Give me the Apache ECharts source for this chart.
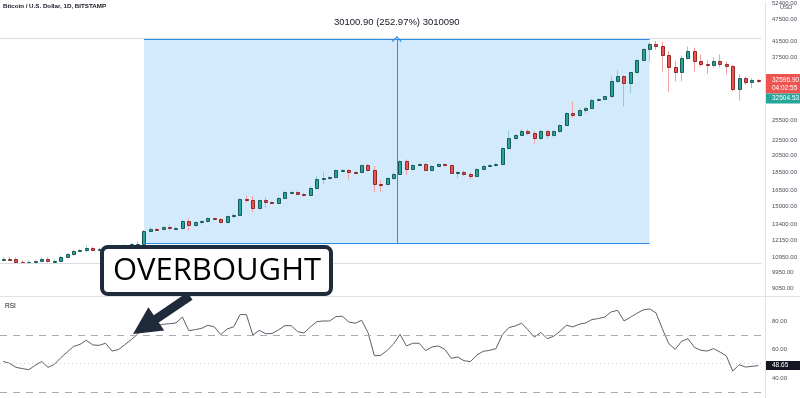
<!DOCTYPE html>
<html>
<head>
<meta charset="utf-8">
<script src="https://cdn.jsdelivr.net/npm/echarts@6/dist/echarts.min.js"></script>
<style>
html,body{margin:0;padding:0;background:#ffffff;}
#c{width:800px;height:398px;}
</style>
</head>
<body>
<div id="c"></div>
<script>
// ---- data (daily BTC/USD candles) ----
const openP = [10780,10850,10805,10650,10631,10640,10716,10828,10670,10696,
10982,11138,11385,11410,11584,11464,11513,11570,11605,11677,
11800,11871,11899,12880,13038,12990,13175,13095,13119,13695,
13306,13552,13637,13889,13850,13569,14078,14208,15643,15604,
14860,15547,15386,15320,15735,16360,16390,16130,16032,16795,
17682,17790,17935,18686,18778,18494,18471,19268,18721,17213,
17145,17790,18300,19784,18801,19304,19421,18755,19186,19386,
19268,18415,18494,18300,18045,18870,19186,19268,19456,21387,
22822,23204,23882,23591,22738,23882,23302,23780,24671,26558,
26314,27163,27430,28890,28995,29473,32452,33319,31978,34147,
36910,39491,40620,40300,38150,35427,34200,37434,39080,36685,
35925,35793,36685,35925,35580,30900,32980,32150,32650];
const closeP = [10850,10800,10650,10631,10650,10716,10828,10670,10696,10982,
11138,11394,11410,11584,11464,11513,11570,11605,11677,11800,
11871,11899,12880,13038,12990,13175,13095,13119,13695,13306,
13552,13637,13889,13850,13569,14078,14208,15643,15604,14860,
15547,15386,15320,15735,16360,16390,16130,16032,16795,17682,
17790,17935,18686,18778,18494,18471,19268,18721,17213,17145,
17790,18300,19784,18801,19304,19421,18755,19186,19386,19268,
18415,18494,18300,18045,18870,19186,19268,19456,21387,22822,
23204,23882,23591,22738,23882,23302,23780,24671,26558,26314,
27163,27430,28890,28995,29473,32452,33319,31978,34147,36910,
39491,40620,40300,38150,35427,34200,37434,39080,36685,35925,
35793,36685,35925,35580,30900,32980,32150,32650,32596.9];
const lowP = [10680,10716,10540,10552,10519,10519,10650,10585,10618,10650,
10915,11050,11290,11276,11394,11415,11464,11499,11534,11605,
11650,11785,11860,12801,12920,12920,12935,13014,13038,12880,
13200,13362,13527,13737,13446,13485,13907,14164,15320,14418,
14787,14860,15245,15245,15669,16260,16012,15914,15963,16630,
17145,17608,17769,18630,17682,18381,18381,18550,16289,16360,
17062,17608,18155,18155,18721,19186,18607,18607,19100,19127,
18324,17790,18045,17715,17935,18721,19068,19127,19362,21229,
22502,23062,23204,21955,22570,22710,22923,23562,24520,25800,
25990,26558,27296,28758,28855,29170,32016,27720,30076,33938,
36640,36530,39250,34357,30260,32313,32313,36960,34357,35427,
33840,35210,35210,33716,30391,28700,31650,31010,31978];
const highP = [10950,10980,10935,10749,10716,10782,10915,10915,10782,11050,
11220,11464,11499,11749,11677,11605,11641,11713,11749,11850,
11966,12077,12935,13159,13119,13281,13362,13200,13779,13890,
13653,13737,13992,13949,13949,14164,14340,15720,15963,15963,
15627,15864,15433,15864,16510,16510,16510,16260,16920,18045,
18527,18045,18835,18835,18835,18607,19362,19421,19186,17608,
17935,18437,19905,19999,19421,19541,19602,19304,19541,19480,
19362,18640,18663,18437,19009,19362,19421,19602,21557,23882,
23345,24140,24066,23780,24000,24000,23926,24822,26719,28583,
27380,27635,29030,29202,29654,33319,34714,33600,34357,37100,
39806,41200,41475,41298,38841,36685,37900,40050,39806,38150,
36910,37430,38150,36530,35793,33840,33319,32980,32810];
const rsiValues = [51.6,50.2,47.4,46.5,45.8,48.8,51.6,47.4,49.5,54.2,
58.2,62.2,63.6,66.5,63.2,62.9,64.4,58.9,59.9,63.4,
66.9,70.9,76.4,77.1,76.8,77.8,78.2,78.7,82.9,73.3,
74.0,74.9,77.1,75.9,70.5,74.5,75.9,84.6,84.6,70.2,
73.5,71.2,71.2,73.8,76.8,76.8,72.6,71.6,75.9,79.6,
80.1,80.1,83.2,83.4,79.4,78.5,80.6,71.9,55.6,55.9,
59.4,63.9,70.7,62.5,64.4,64.4,59.2,61.8,62.5,60.1,
53.8,54.7,52.1,51.4,56.1,58.7,59.4,60.6,70.5,75.4,
76.6,78.5,73.8,68.6,72.1,67.6,69.3,72.8,77.1,75.9,
77.8,78.7,81.1,81.8,82.9,86.5,87.6,80.1,82.7,85.5,
87.9,88.6,85.8,74.5,64.1,60.1,65.8,67.6,61.5,59.4,
58.9,60.6,58.2,55.4,44.8,49.3,47.6,48.1,48.65];
const priceTicks = [9050,9950,10950,12150,13400,15000,16500,18500,20500,22500,25500,37500,41500,47500,52400];
const rsiTicks = [40,60,80];
const rsiLevels = [70,30];
const rsiMid = 50;
const priceRange = [8614, 52600];
const rsiRange = [25.8, 97];
const guidePrices = [42000, 10480];
const measureStartIdx = 22, measureEndIdx = 101;
const measureStartPrice = 11899, measureEndPrice = 42000;
const measureText = '30100.90 (252.97%) 3010090';
const lastPriceText = '32596.90', countdownText = '04:02:55', otherPriceText = '32504.53';
const lastRsiText = '48.65';
const titleText = 'Bitcoin / U.S. Dollar, 1D, BITSTAMP';

// ---- chart ----
const L = Math.log;
const N = openP.length;
const idx = openP.map((_, i) => i);
const candleData = idx.map(i => [i, L(openP[i]), L(closeP[i]), L(lowP[i]), L(highP[i])]);
const FONT = 'Liberation Sans';
const LABEL_COLOR = '#4c4f5a';

function renderCandle(params, api) {
  const i = api.value(0);
  const o = api.coord([i, api.value(1)]);
  const c = api.coord([i, api.value(2)]);
  const lo = api.coord([i, api.value(3)]);
  const hi = api.coord([i, api.value(4)]);
  const up = api.value(2) >= api.value(1);
  const bw = Math.round(api.size([1, 0])[0] * 0.68);
  const xc = Math.round(o[0] - 0.5) + 0.5;
  const top = Math.round(Math.min(o[1], c[1]));
  const bot = Math.round(Math.max(o[1], c[1]));
  const h = Math.max(bot - top, 1);
  const x0 = Math.round(xc - bw / 2);
  return {
    type: 'group',
    children: [
      {type: 'line', shape: {x1: xc, y1: hi[1], x2: xc, y2: lo[1]},
       style: {stroke: up ? '#8fd0c8' : '#f2a1a0', lineWidth: 1}},
      {type: 'rect', shape: {x: x0 + 0.5, y: top + 0.5, width: bw - 1, height: h},
       style: {fill: up ? '#26a69a' : '#ef5350', stroke: up ? '#1a5c55' : '#8e2a28', lineWidth: 1}}
    ]
  };
}

const chevron = 'path://M0,7 L6,0 L12,7 L10.8,7.8 L6,2.2 L1.2,7.8 Z';
const midIdx = (measureStartIdx + measureEndIdx) / 2;

const chart = echarts.init(document.getElementById('c'));
chart.setOption({
  animation: false,
  backgroundColor: '#ffffff',
  textStyle: {fontFamily: FONT},
  grid: [
    {left: -3.6, right: 38.4, top: 0, height: 296},
    {left: -3.6, right: 38.4, top: 297, height: 101}
  ],
  xAxis: [
    {type: 'category', gridIndex: 0, data: idx, boundaryGap: true, show: false},
    {type: 'category', gridIndex: 1, data: idx, boundaryGap: true, show: false},
    {type: 'value', gridIndex: 0, min: -0.5, max: N - 0.5, show: false}
  ],
  yAxis: [
    {type: 'value', gridIndex: 0, position: 'right', offset: 3.4,
     min: L(priceRange[0]), max: L(priceRange[1]),
     axisLine: {show: true, onZero: false, lineStyle: {color: '#e0e3eb'}},
     axisTick: {show: false},
     splitLine: {show: false},
     axisLabel: {customValues: priceTicks.map(L), formatter: v => Math.exp(v).toFixed(2),
                 fontSize: 6, color: LABEL_COLOR, fontFamily: FONT, margin: 7}},
    {type: 'value', gridIndex: 1, position: 'right', offset: 3.4,
     min: rsiRange[0], max: rsiRange[1],
     axisLine: {show: true, onZero: false, lineStyle: {color: '#e0e3eb'}},
     axisTick: {show: false},
     splitLine: {show: false},
     axisLabel: {customValues: rsiTicks, formatter: v => v.toFixed(2),
                 fontSize: 6, color: LABEL_COLOR, fontFamily: FONT, margin: 7}}
  ],
  series: [
    {
      type: 'line', xAxisIndex: 0, yAxisIndex: 0, data: [], z: 0, silent: true,
      markLine: {silent: true, symbol: ['none', 'none'], label: {show: false},
        lineStyle: {color: '#d9dce3', width: 1, type: 'solid'},
        data: guidePrices.map(p => ({yAxis: L(p)}))}
    },
    {
      type: 'line', xAxisIndex: 2, yAxisIndex: 0, data: [], z: 1, silent: true,
      markArea: {silent: true, itemStyle: {color: 'rgba(33,150,243,0.2)'},
        data: [[{coord: [measureStartIdx, L(measureStartPrice)]}, {coord: [measureEndIdx, L(measureEndPrice)]}]]},
      markLine: {silent: true, symbol: ['none', 'none'], animation: false,
        lineStyle: {color: '#2b8de3', width: 1, type: 'solid'}, label: {show: false},
        data: [
          [{coord: [measureStartIdx, L(measureEndPrice)]}, {coord: [measureEndIdx, L(measureEndPrice)]}],
          [{coord: [measureStartIdx, L(measureStartPrice)]}, {coord: [measureEndIdx, L(measureStartPrice)]}],
          [{coord: [midIdx, L(measureStartPrice)], symbol: 'none'},
           {coord: [midIdx, L(measureEndPrice)], symbol: chevron, symbolSize: [10, 6],
            label: {show: true, position: 'end', formatter: measureText, color: '#131722',
                    fontSize: 9.5, fontFamily: FONT, distance: 12}}]
        ]}
    },
    {
      type: 'custom', xAxisIndex: 0, yAxisIndex: 0, data: candleData, renderItem: renderCandle,
      encode: {x: 0, y: [1, 2, 3, 4]}, z: 3, silent: true
    },
    {
      type: 'line', xAxisIndex: 1, yAxisIndex: 1, data: rsiValues, symbol: 'none', showSymbol: false,
      lineStyle: {color: '#5d606b', width: 1}, z: 3, silent: true,
      markLine: {silent: true, symbol: ['none', 'none'], label: {show: false},
        data: rsiLevels.map(v => ({yAxis: v, lineStyle: {color: '#a9acb5', type: [7, 6], width: 1}}))
          .concat([{yAxis: rsiMid, lineStyle: {color: '#cfd1d7', type: [1, 3], width: 1}}])}
    }
  ]
});

// ---- annotations placed from the axes ----
const yLast = chart.convertToPixel({yAxisIndex: 0}, L(closeP[N - 1]));
const yRsi = chart.convertToPixel({yAxisIndex: 1}, rsiValues[N - 1]);
const smallText = (text, x, y, fill, extra) => Object.assign({
  type: 'text', x: x, y: y, z: 50,
  style: {text: text, fill: fill, font: '6.5px "' + FONT + '"', align: 'left', verticalAlign: 'middle'}
}, extra || {});

chart.setOption({
  graphic: [
    {type: 'text', x: 3, y: 6.5, z: 50,
     style: {text: titleText, fill: '#131722', font: 'bold 6.2px "' + FONT + '"', verticalAlign: 'middle'}},
    {type: 'text', x: 786, y: 7.5, z: 50,
     style: {text: 'USD', fill: LABEL_COLOR, font: '6px "' + FONT + '"', align: 'center', verticalAlign: 'middle'}},
    {type: 'line', z: 50, shape: {x1: 0, y1: 296.5, x2: 800, y2: 296.5}, style: {stroke: '#e0e3eb', lineWidth: 1}},
    {type: 'text', x: 5, y: 306, z: 50,
     style: {text: 'RSI', fill: '#131722', font: '6.5px "' + FONT + '"', verticalAlign: 'middle'}},
    {type: 'rect', z: 50, shape: {x: 766, y: yLast - 6, width: 34, height: 19.5}, style: {fill: '#ef5350'}},
    smallText(lastPriceText, 772, yLast, '#ffffff'),
    smallText(countdownText, 772, yLast + 8.5, '#ffffff'),
    {type: 'rect', z: 50, shape: {x: 766, y: yLast + 13.5, width: 34, height: 10}, style: {fill: '#26a69a'}},
    smallText(otherPriceText, 772, yLast + 18.5, '#ffffff'),
    {type: 'rect', z: 50, shape: {x: 766, y: yRsi - 4.5, width: 34, height: 9}, style: {fill: '#131722'}},
    smallText(lastRsiText, 772, yRsi, '#ffffff'),
    {type: 'polygon', z: 90,
     shape: {points: [[133, 334], [164.2, 330.5], [158.8, 322.6], [192.5, 299.7], [187.5, 292.3], [153.8, 315.2], [148.4, 307.3]]},
     style: {fill: '#1f2a3a'}},
    {type: 'rect', z: 95, shape: {x: 102, y: 247, width: 229, height: 47, r: 6},
     style: {fill: '#ffffff', stroke: '#1f2a3a', lineWidth: 4}},
    {type: 'text', x: 217, y: 271, z: 96,
     style: {text: 'OVERBOUGHT', fill: '#000000', font: '31px "Open Sans"', align: 'center', verticalAlign: 'middle'}}
  ]
});
</script>
</body>
</html>
